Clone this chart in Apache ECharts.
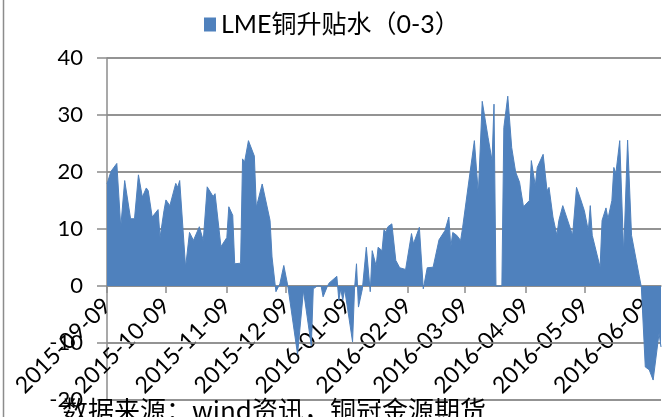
<!DOCTYPE html>
<html><head><meta charset="utf-8">
<script src="https://cdn.jsdelivr.net/npm/echarts@6/dist/echarts.min.js"></script>
<style>html,body{margin:0;padding:0;background:#fff}#c{width:672px;height:417px}</style>
</head><body><div id="c"></div>
<script>
const seriesName = 'LME铜升贴水（0-3）';
const sourceText = '数据来源：wind资讯，铜冠金源期货';
const dates = [
'2015-09-09','2015-09-11','2015-09-14','2015-09-16','2015-09-18','2015-09-21','2015-09-23','2015-09-25','2015-09-27','2015-09-29',
'2015-09-30','2015-10-02','2015-10-05','2015-10-06','2015-10-08','2015-10-09','2015-10-11','2015-10-14','2015-10-15','2015-10-16',
'2015-10-19','2015-10-21','2015-10-23','2015-10-26','2015-10-28','2015-10-30','2015-11-02','2015-11-03','2015-11-06','2015-11-09',
'2015-11-10','2015-11-12','2015-11-13','2015-11-16','2015-11-17','2015-11-18','2015-11-20','2015-11-23','2015-11-24','2015-11-27',
'2015-12-01','2015-12-02','2015-12-03','2015-12-04','2015-12-06','2015-12-08','2015-12-10','2015-12-15','2015-12-18','2015-12-22',
'2015-12-23','2015-12-25','2015-12-27','2015-12-28','2015-12-30','2015-12-31','2016-01-04','2016-01-05','2016-01-06','2016-01-07',
'2016-01-08','2016-01-12','2016-01-13','2016-01-14','2016-01-15','2016-01-17','2016-01-19','2016-01-21','2016-01-22','2016-01-24',
'2016-01-25','2016-01-27','2016-01-28','2016-01-29','2016-01-30','2016-02-01','2016-02-03','2016-02-04','2016-02-05','2016-02-08',
'2016-02-11','2016-02-12','2016-02-15','2016-02-17','2016-02-19','2016-02-22','2016-02-23','2016-02-25','2016-02-28','2016-03-01',
'2016-03-02','2016-03-03','2016-03-05','2016-03-07','2016-03-08','2016-03-09','2016-03-11','2016-03-14','2016-03-16','2016-03-18',
'2016-03-21','2016-03-23','2016-03-24','2016-03-25','2016-03-28','2016-03-29','2016-03-31','2016-04-02','2016-04-04','2016-04-06',
'2016-04-07','2016-04-08','2016-04-11','2016-04-12','2016-04-14','2016-04-15','2016-04-18','2016-04-20','2016-04-21','2016-04-23',
'2016-04-25','2016-04-26','2016-04-28','2016-04-29','2016-05-03','2016-05-05','2016-05-07','2016-05-09','2016-05-11','2016-05-12',
'2016-05-13','2016-05-17','2016-05-18','2016-05-20','2016-05-21','2016-05-23','2016-05-24','2016-05-25','2016-05-27','2016-05-29',
'2016-05-31','2016-06-02','2016-06-03','2016-06-06','2016-06-07','2016-06-09','2016-06-11','2016-06-13','2016-06-16','2016-06-17'
];
const values = [
17.9,20.1,21.5,10.3,18.5,11.8,11.8,19.5,15.6,17.2,
16.7,12.1,13.4,8.5,13.2,15.1,14.1,18.0,17.3,18.5,
3.3,9.4,8.0,10.4,8.0,17.4,15.7,16.2,6.9,8.5,
13.9,12.4,3.9,4.0,22.3,21.7,25.5,22.8,13.8,17.9,
11.5,5.1,4.9,-1.0,0.4,3.6,0.1,-12.0,-0.8,-10.5,
-0.5,0,0,-1.9,-0.2,0.5,1.7,-2.5,-0.5,-2.5,
-0.6,-9.8,-0.5,3.9,-3.7,-0.5,6.8,-1.0,6.2,3.5,
6.8,6.2,9.9,9.4,10.4,10.9,4.5,4.6,3.2,2.9,
9.2,7.4,10.3,-0.5,3.2,3.3,3.0,8.1,9.7,12.1,
6.8,9.4,8.9,8.0,10.2,10.3,17.9,25.5,16.2,32.4,
26.0,22.0,31.9,0,0,27.8,33.3,24.3,20.0,18.2,
18.5,13.9,15.0,22.0,17.6,20.8,23.1,16.7,17.3,12.1,
8.9,11.5,14.1,14.0,8.9,17.3,15.3,13.2,9.7,14.1,
8.9,3.3,11.5,13.7,11.8,15.0,20.8,19.7,25.5,5.7,
25.6,8.9,8.6,1.6,-0.2,-14.2,-14.7,-16.5,-8.3,-10.7
];
const tickDates = ['2015-09-09','2015-10-09','2015-11-09','2015-12-09','2016-01-09','2016-02-09','2016-03-09','2016-04-09','2016-05-09','2016-06-09'];
const yTicks = [-20,-10,0,10,20,30,40];
const axisStart = '2015-09-09';
const axisEnd = '2016-06-17';
const yMin = -20, yMax = 40, yStep = 10;

// one category per calendar day of the date axis
function fmt(d){const p=n=>(n<10?'0':'')+n;return d.getFullYear()+'-'+p(d.getMonth()+1)+'-'+p(d.getDate());}
const days = [];
(function(){const a=axisStart.split('-').map(Number), b=axisEnd.split('-').map(Number);
  const d=new Date(a[0],a[1]-1,a[2]), e=new Date(b[0],b[1]-1,b[2]);
  while(d<=e){days.push(fmt(d)); d.setDate(d.getDate()+1);} })();
const tickSet = new Set(tickDates);

const chart = echarts.init(document.getElementById('c'), null, {renderer:'canvas'});
const latin = 'Lato, "Noto Sans CJK SC", sans-serif';
const gray = '#8c8c8c';
const gridLine = {color:gray, width:1.5, type:'solid', opacity:1};
chart.setOption({
  animation:false,
  backgroundColor:'#fff',
  legend:{
    top:7, left:199,
    itemWidth:12, itemHeight:14, itemGap:4,
    icon:'rect',
    textStyle:{fontSize:25, color:'#000', fontFamily:latin},
    data:[seriesName]
  },
  grid:{left:107, right:11, top:58, bottom:17, containLabel:false, outerBoundsMode:'none'},
  xAxis:{
    type:'category', data:days, boundaryGap:false, position:'bottom', offset:0,
    axisLine:{show:true, onZero:false, lineStyle:{color:gray, width:1.5}},
    axisTick:{show:true, length:7, interval:(i,v)=>tickSet.has(v), lineStyle:{color:gray, width:1.5}},
    axisLabel:{interval:(i,v)=>tickSet.has(v), rotate:45, margin:16, fontSize:23, color:'#000', fontFamily:latin, hideOverlap:false},
    splitLine:{show:false}
  },
  yAxis:{
    type:'value', min:yMin, max:yMax, interval:yStep,
    axisLine:{show:true, onZero:false, lineStyle:{color:gray, width:1.5}},
    axisTick:{show:true, length:10, lineStyle:{color:gray, width:1.5}},
    axisLabel:{fontSize:22, color:'#000', margin:24, fontFamily:latin},
    splitLine:{show:true, lineStyle:gridLine}
  },
  series:[{
    name:seriesName, type:'line', showSymbol:false, symbol:'none', z:3,
    data:dates.map((d,i)=>[d, values[i]]),
    lineStyle:{color:'#4F81BD', width:1},
    itemStyle:{color:'#4F81BD'},
    areaStyle:{color:'#4F81BD', opacity:1},
    markLine:{
      silent:true, z:1, symbol:['none','none'], animation:false,
      label:{show:false}, emphasis:{disabled:true},
      lineStyle:gridLine,
      data:yTicks.map(v=>({yAxis:v}))
    }
  }],
  graphic:[
    {type:'line', shape:{x1:3.5,y1:0,x2:3.5,y2:417}, style:{stroke:gray, lineWidth:1.5}},
    {type:'text', left:62, top:397, z:100, style:{text:sourceText, fontSize:26, fill:'#000', fontFamily:'"Noto Sans CJK SC", sans-serif'}}
  ]
});
// move the date axis (line, ticks, labels) up to the zero level of the value axis
const zeroY = chart.convertToPixel({yAxisIndex:0}, 0);
const bottomY = chart.convertToPixel({yAxisIndex:0}, yMin);
chart.setOption({xAxis:{offset:-(bottomY - zeroY)}});
</script></body></html>
